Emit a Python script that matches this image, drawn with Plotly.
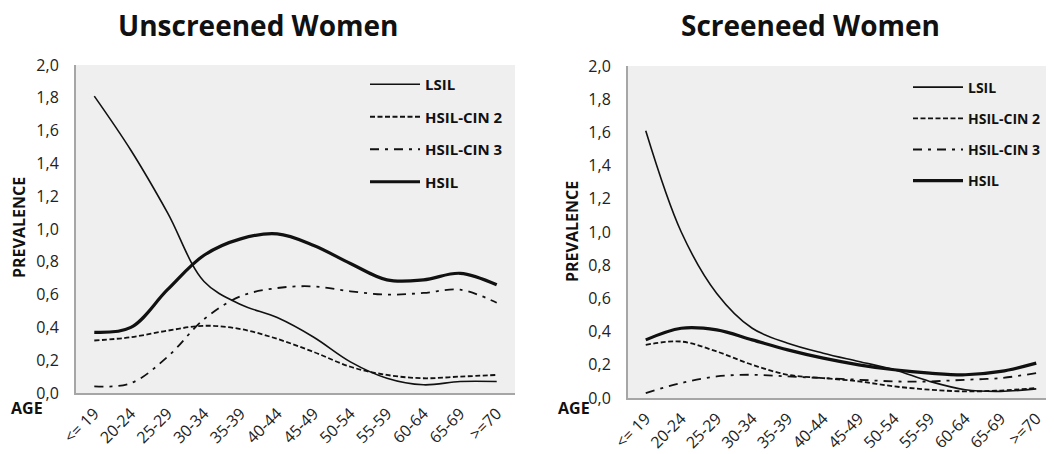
import plotly.graph_objects as go

age_groups = ["<= 19", "20-24", "25-29", "30-34", "35-39", "40-44",
              "45-49", "50-54", "55-59", "60-64", "65-69", ">=70"]
series_names = ["LSIL", "HSIL-CIN 2", "HSIL-CIN 3", "HSIL"]

# Unscreened women
unscreened_lsil = [1.81, 1.48, 1.10, 0.68, 0.54, 0.46, 0.34, 0.19, 0.09, 0.05, 0.07, 0.07]
unscreened_cin2 = [0.32, 0.34, 0.38, 0.41, 0.39, 0.33, 0.25, 0.16, 0.11, 0.09, 0.10, 0.11]
unscreened_cin3 = [0.04, 0.06, 0.22, 0.45, 0.59, 0.64, 0.65, 0.62, 0.60, 0.61, 0.63, 0.55]
unscreened_hsil = [0.37, 0.40, 0.63, 0.84, 0.94, 0.97, 0.90, 0.79, 0.69, 0.69, 0.73, 0.66]

# Screened women
screened_lsil = [1.61, 1.00, 0.63, 0.42, 0.33, 0.27, 0.22, 0.17, 0.10, 0.05, 0.04, 0.055]
screened_cin2 = [0.32, 0.34, 0.28, 0.20, 0.14, 0.12, 0.10, 0.07, 0.05, 0.04, 0.045, 0.06]
screened_cin3 = [0.03, 0.09, 0.13, 0.14, 0.13, 0.12, 0.11, 0.10, 0.10, 0.11, 0.12, 0.15]
screened_hsil = [0.35, 0.42, 0.41, 0.35, 0.29, 0.24, 0.20, 0.17, 0.15, 0.14, 0.16, 0.21]

y_ticks = [0.0, 0.2, 0.4, 0.6, 0.8, 1.0, 1.2, 1.4, 1.6, 1.8, 2.0]

INK = "#111111"
styles = {
    "LSIL": dict(width=1.6, dash="solid"),
    "HSIL-CIN 2": dict(width=1.8, dash="5px,2.5px"),
    "HSIL-CIN 3": dict(width=1.8, dash="9px,6px,3px,6px"),
    "HSIL": dict(width=3.2, dash="solid"),
}

panels = [
    ("x", "y", "legend", [unscreened_lsil, unscreened_cin2, unscreened_cin3, unscreened_hsil]),
    ("x2", "y2", "legend2", [screened_lsil, screened_cin2, screened_cin3, screened_hsil]),
]

fig = go.Figure()
for xa, ya, lg, data in panels:
    for name, vals in zip(series_names, data):
        st = styles[name]
        fig.add_trace(go.Scatter(
            x=age_groups, y=vals, name=name, mode="lines",
            line=dict(color=INK, width=st["width"], dash=st["dash"],
                      shape="spline", smoothing=1.0),
            xaxis=xa, yaxis=ya, legend=lg, legendgroup=lg + name,
            hoverinfo="skip",
        ))

# The page body has an 8px margin; size the figure to fill the rest of the window
OFF = 8
W, H = 1054 - OFF, 454 - OFF
def px(v): return (v - OFF) / W
def py(v): return 1 - (v - OFF) / H

axis_common = dict(showgrid=False, zeroline=False, showline=True, automargin=False,
                   linecolor="#a6a6a6", linewidth=2, ticks="")
xfont = dict(family="Open Sans", size=16, color="#222222")
yfont = dict(family="Open Sans", size=16, color="#222222")

def legend_style(size):
    return dict(
        font=dict(family="Open Sans", size=size, color="#111111", weight="bold"),
        bgcolor="rgba(0,0,0,0)", traceorder="grouped", tracegroupgap=10,
        itemwidth=50, xanchor="left", yanchor="top",
    )

fig.update_layout(
    width=W, height=H,
    margin=dict(l=0, r=0, t=0, b=0, autoexpand=False),
    paper_bgcolor="white",
    plot_bgcolor="#efefef",
    separators=", ",
    showlegend=True,
    xaxis=dict(domain=[px(76), px(515)], range=[-0.5, 11.5], type="category",
               tickangle=-45, tickfont=xfont, ticklabelstandoff=3, **axis_common),
    yaxis=dict(domain=[py(393), py(65)], range=[0, 2], tickvals=y_ticks,
               tickformat=".1f", tickfont=yfont, ticklabelstandoff=12, **axis_common),
    xaxis2=dict(domain=[px(628), px(1054)], range=[-0.5, 11.5], type="category",
                tickangle=-45, tickfont=xfont, ticklabelstandoff=3, anchor="y2",
                **axis_common),
    yaxis2=dict(domain=[py(398), py(66)], range=[0, 2], tickvals=y_ticks,
                tickformat=".1f", tickfont=yfont, ticklabelstandoff=12, anchor="x2",
                **axis_common),
    legend=dict(x=px(365), y=py(68), **legend_style(15)),
    legend2=dict(x=px(908), y=py(71.5), **legend_style(14)),
)

ann_title = dict(family="Open Sans", size=28, color="#111111", weight="bold")
ann_lbl = dict(family="Open Sans", size=16, color="#111111", weight="bold")
annotations = [
    dict(text="Unscreened Women", x=px(258), y=py(25), font=ann_title),
    dict(text="Screeneed Women", x=px(810), y=py(25), font=ann_title),
    dict(text="PREVALENCE", x=px(19), y=py(228), textangle=-90, font=ann_lbl),
    dict(text="PREVALENCE", x=px(572), y=py(232), textangle=-90, font=ann_lbl),
    dict(text="AGE", x=px(27), y=py(408), font=ann_lbl),
    dict(text="AGE", x=px(574), y=py(408), font=ann_lbl),
]
for a in annotations:
    fig.add_annotation(xref="paper", yref="paper", showarrow=False,
                       xanchor="center", yanchor="middle", **a)

fig.write_html("out.html")
